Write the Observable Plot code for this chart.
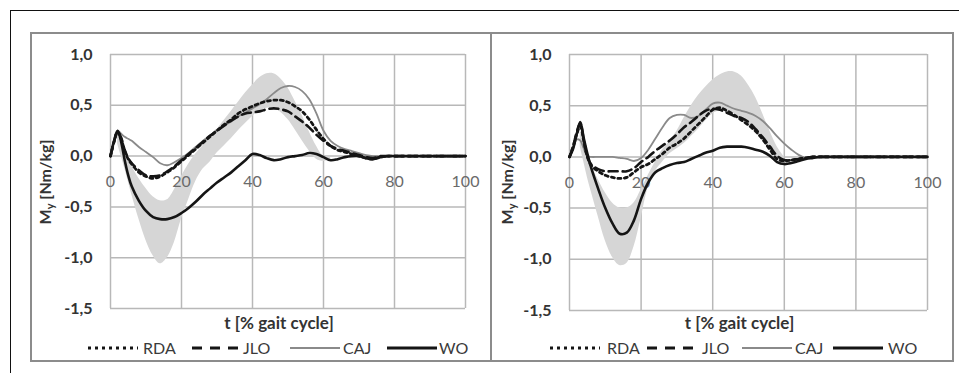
<!DOCTYPE html>
<html><head><meta charset="utf-8">
<script src="https://cdn.jsdelivr.net/npm/d3@7"></script>
<script src="https://cdn.jsdelivr.net/npm/@observablehq/plot@0.6"></script>
<style>
body{margin:0;background:#fff;font-family:Lato,"Open Sans",sans-serif;}
#page{position:relative;width:959px;height:373px;overflow:hidden;background:#fff;}
.blk-top{position:absolute;left:10px;top:10px;width:949px;height:0;border-top:1.5px solid #111;}
.blk-left{position:absolute;left:10px;top:10px;width:0;height:363px;border-left:1.5px solid #111;}
.gframe{position:absolute;left:30px;top:32px;width:920px;height:326px;border:2px solid #8c8c8c;box-sizing:content-box;}
.gdiv{position:absolute;left:490px;top:32px;width:0;height:328px;border-left:2px solid #8c8c8c;}
.panel{position:absolute;top:32px;}
.leg{position:absolute;top:340px;height:16px;font-size:16px;color:#3a3a3a;}
.leg .s{position:absolute;top:0;}
.leg .t{position:absolute;top:-2px;line-height:19px;white-space:nowrap;}
</style></head>
<body><div id="page">
<div class="blk-top"></div><div class="blk-left"></div>
<div class="gframe"></div><div class="gdiv"></div>
<div id="pL" class="panel" style="left:30px"></div>
<div id="pR" class="panel" style="left:491px"></div>
<div id="legL" class="leg" style="left:0px"></div>
<div id="legR" class="leg" style="left:0px"></div>
</div>
<script>
// ---------- data ----------
const xTicks = [0, 20, 40, 60, 80, 100];
const yTicks = [1.0, 0.5, 0.0, -0.5, -1.0, -1.5];
const seriesNames = ["RDA", "JLO", "CAJ", "WO"];
const xTitle = "t [% gait cycle]";

// common time grid (% gait cycle)
const t = [0,1,2,3,4,5,6,8,10,12,14,16,18,20,22,24,26,28,30,32,34,36,38,40,42,44,46,48,50,52,54,56,58,60,62,64,66,68,70,72,74,76,78,80,90,100];

// Left panel
const rdaL = [0,0.14,0.24,0.17,0.05,-0.03,-0.08,-0.16,-0.2,-0.22,-0.2,-0.16,-0.11,-0.05,0.01,0.07,0.13,0.19,0.25,0.31,0.36,0.42,0.46,0.49,0.52,0.54,0.55,0.55,0.53,0.49,0.44,0.36,0.26,0.17,0.1,0.06,0.04,0.02,0.0,-0.02,-0.03,-0.01,0,0,0,0];
const jloL = [0,0.14,0.24,0.18,0.06,-0.02,-0.07,-0.14,-0.19,-0.2,-0.19,-0.15,-0.1,-0.04,0.02,0.08,0.14,0.2,0.25,0.3,0.35,0.39,0.42,0.43,0.44,0.46,0.47,0.46,0.44,0.39,0.34,0.28,0.21,0.15,0.1,0.07,0.05,0.03,0.01,-0.01,-0.02,0,0,0,0,0];
const cajL = [0,0.15,0.25,0.22,0.19,0.17,0.15,0.09,0.04,-0.01,-0.07,-0.09,-0.06,-0.02,0.03,0.09,0.15,0.2,0.26,0.3,0.34,0.39,0.43,0.47,0.51,0.56,0.62,0.67,0.69,0.68,0.64,0.56,0.42,0.25,0.15,0.1,0.07,0.05,0.03,0.01,0,0,0,0,0,0];
const woL  = [0,0.15,0.25,0.14,-0.04,-0.19,-0.3,-0.44,-0.54,-0.6,-0.62,-0.62,-0.6,-0.56,-0.51,-0.45,-0.38,-0.32,-0.26,-0.21,-0.16,-0.1,-0.04,0.02,0.01,-0.02,-0.04,-0.03,-0.01,0.0,0.01,0.03,0.02,-0.01,-0.04,-0.03,-0.01,0,0,-0.02,-0.03,-0.01,0,0,0,0];
const bandTL = [2,3,4,5,6,8,10,12,14,16,18,20,22,24,26,28,30,32,34,36,38,40,42,44,46,48,50,52,54,56,58,60,62];
const bandLoL = [0.12,0.0,-0.12,-0.25,-0.38,-0.62,-0.83,-0.98,-1.06,-1.0,-0.85,-0.62,-0.43,-0.25,-0.13,-0.06,0.03,0.1,0.17,0.25,0.32,0.39,0.44,0.47,0.47,0.43,0.36,0.26,0.15,0.05,-0.03,-0.05,-0.03];
const bandHiL = [0.22,0.15,0.05,-0.04,-0.1,-0.22,-0.32,-0.4,-0.44,-0.43,-0.33,-0.2,-0.08,0.02,0.1,0.18,0.26,0.35,0.44,0.53,0.62,0.7,0.77,0.81,0.81,0.76,0.67,0.54,0.4,0.24,0.1,0.0,-0.01];

// Right panel
const rdaR = [0,0.1,0.22,0.3,0.15,0.0,-0.08,-0.14,-0.18,-0.2,-0.21,-0.2,-0.15,-0.1,-0.07,-0.02,0.03,0.09,0.13,0.18,0.25,0.32,0.39,0.46,0.48,0.45,0.41,0.36,0.31,0.25,0.17,0.07,-0.02,-0.04,-0.03,-0.02,-0.01,0,0,0,0,0,0,0,0,0];
const jloR = [0,0.1,0.24,0.33,0.16,0.0,-0.07,-0.12,-0.14,-0.14,-0.14,-0.14,-0.11,-0.05,0.0,0.06,0.11,0.16,0.22,0.29,0.34,0.4,0.45,0.47,0.46,0.43,0.4,0.38,0.34,0.27,0.19,0.1,0.01,-0.03,-0.03,-0.02,-0.01,0,0,0,0,0,0,0,0,0];
const cajR = [0,0.08,0.17,0.16,0.08,0.01,0,0,0,0,-0.01,-0.02,-0.04,-0.01,0.07,0.18,0.29,0.38,0.41,0.41,0.38,0.4,0.46,0.52,0.53,0.5,0.47,0.45,0.43,0.4,0.35,0.28,0.2,0.13,0.07,0.02,-0.01,-0.01,0,0,0,0,0,0,0,0];
const woR  = [0,0.08,0.22,0.34,0.18,0.03,-0.1,-0.31,-0.5,-0.65,-0.75,-0.74,-0.62,-0.41,-0.25,-0.15,-0.11,-0.08,-0.06,-0.05,-0.02,0.01,0.04,0.06,0.09,0.1,0.1,0.1,0.09,0.07,0.05,0.01,-0.05,-0.07,-0.06,-0.04,-0.02,-0.01,0,0,0,0,0,0,0,0];
const bandTR = [3,4,5,6,8,10,12,14,16,18,20,22,24,26,28,30,32,34,36,38,40,42,44,46,48,50,52,54,56,58,60];
const bandLoR = [0.1,-0.05,-0.2,-0.33,-0.58,-0.82,-0.98,-1.06,-1.04,-0.88,-0.6,-0.3,-0.14,-0.05,0.03,0.08,0.13,0.2,0.27,0.35,0.42,0.45,0.45,0.42,0.38,0.32,0.24,0.15,0.07,0.0,-0.03];
const bandHiR = [0.25,0.15,0.0,-0.08,-0.22,-0.35,-0.45,-0.5,-0.5,-0.45,-0.32,-0.18,-0.05,0.07,0.15,0.25,0.38,0.5,0.6,0.68,0.75,0.8,0.83,0.83,0.79,0.7,0.58,0.42,0.25,0.1,0.0];

// ---------- styles ----------
const styles = {
  RDA: {stroke: "#151515", strokeWidth: 2.8, strokeDasharray: "3,3.5"},
  JLO: {stroke: "#151515", strokeWidth: 2.6, strokeDasharray: "9,5"},
  CAJ: {stroke: "#8a8a8a", strokeWidth: 1.8},
  WO:  {stroke: "#151515", strokeWidth: 2.6}
};
const FONT = "Lato, 'Open Sans', sans-serif";
const fmt = d => d.toFixed(1).replace(".", ",");

function rows(vals) { return t.map((x, i) => ({x, y: vals[i]})); }

function panel(el, opts) {
  const {ml, mr, mt, mb, width, height, data, bandT, bandLo, bandHi, titleDx, titleDy, yTitleX, yTitleY} = opts;
  const band = bandT.map((x, i) => ({x, lo: bandLo[i], hi: bandHi[i]}));
  const p = Plot.plot({
    width, height,
    marginLeft: ml, marginRight: mr, marginTop: mt, marginBottom: mb,
    style: {fontFamily: FONT, background: "transparent", overflow: "visible"},
    x: {domain: [0, 100]},
    y: {domain: [-1.5, 1.0]},
    marks: [
      Plot.gridX(xTicks, {stroke: "#b8b8b8", strokeOpacity: 1, strokeWidth: 1.5}),
      Plot.gridY(yTicks, {stroke: "#b8b8b8", strokeOpacity: 1, strokeWidth: 1.5}),
      Plot.areaY(band, {x: "x", y1: "lo", y2: "hi", fill: "#d6d6d6", curve: "catmull-rom"}),
      Plot.axisY(yTicks, {tickSize: 0, tickPadding: 18, tickFormat: fmt, fontSize: 16, fontWeight: "bold", fill: "#333", label: null}),
      Plot.axisX({ticks: [], label: null, tickSize: 0}),
      Plot.text(xTicks, {x: d => d, y: 0, dy: 26, text: d => String(d), fontSize: 16, fill: "#6a6a6a"}),
      Plot.text([xTitle], {frameAnchor: "bottom", dx: titleDx, dy: titleDy, fontSize: 17, fontWeight: "bold", fill: "#333", lineAnchor: "middle"}),
      Plot.lineY(rows(data.CAJ), {x: "x", y: "y", curve: "catmull-rom", ...styles.CAJ}),
      Plot.lineY(rows(data.WO), {x: "x", y: "y", curve: "catmull-rom", ...styles.WO}),
      Plot.lineY(rows(data.JLO), {x: "x", y: "y", curve: "catmull-rom", ...styles.JLO}),
      Plot.lineY(rows(data.RDA), {x: "x", y: "y", curve: "catmull-rom", ...styles.RDA})
    ]
  });
  // y-axis title with subscript
  const tx = d3.select(p).append("text")
    .attr("transform", `translate(${yTitleX},${yTitleY}) rotate(-90)`)
    .attr("text-anchor", "middle").attr("dominant-baseline", "middle")
    .attr("font-size", 16).attr("font-weight", "bold").attr("fill", "#333")
    .attr("font-family", FONT);
  tx.append("tspan").text("M");
  tx.append("tspan").attr("font-size", 11).attr("dy", 4).text("y");
  tx.append("tspan").attr("dy", -4).text(" [Nm/kg]");
  document.getElementById(el).appendChild(p);
}

panel("pL", {width: 461, height: 300, ml: 80, mr: 26, mt: 22, mb: 24,
  data: {RDA: rdaL, JLO: jloL, CAJ: cajL, WO: woL},
  bandT: bandTL, bandLo: bandLoL, bandHi: bandHiL,
  titleDx: -9, titleDy: 15, yTitleX: 17, yTitleY: 150});
panel("pR", {width: 461, height: 300, ml: 78, mr: 25, mt: 22, mb: 22,
  data: {RDA: rdaR, JLO: jloR, CAJ: cajR, WO: woR},
  bandT: bandTR, bandLo: bandLoR, bandHi: bandHiR,
  titleDx: -9, titleDy: 13, yTitleX: 18, yTitleY: 150});

// ---------- legends ----------
function legend(el, starts, textOff) {
  const box = document.getElementById(el);
  seriesNames.forEach((name, i) => {
    const st = styles[name];
    const s = document.createElementNS("http://www.w3.org/2000/svg", "svg");
    s.setAttribute("width", 50); s.setAttribute("height", 16);
    s.setAttribute("class", "s");
    s.style.left = starts[i] + "px";
    const ln = document.createElementNS("http://www.w3.org/2000/svg", "line");
    ln.setAttribute("x1", 0); ln.setAttribute("x2", 50);
    ln.setAttribute("y1", 8); ln.setAttribute("y2", 8);
    ln.setAttribute("stroke", st.stroke);
    ln.setAttribute("stroke-width", name === "CAJ" ? 2.2 : 3);
    if (name === "RDA") ln.setAttribute("stroke-dasharray", "3,4");
    if (name === "JLO") ln.setAttribute("stroke-dasharray", "10,8");
    s.appendChild(ln);
    box.appendChild(s);
    const tx = document.createElement("div");
    tx.className = "t"; tx.textContent = name;
    tx.style.left = (starts[i] + textOff[i]) + "px";
    box.appendChild(tx);
  });
}
legend("legL", [88, 192, 290, 387], [55, 51, 53, 52]);
legend("legR", [550, 647, 742, 833], [57, 55, 53, 55]);
</script>
</body></html>
